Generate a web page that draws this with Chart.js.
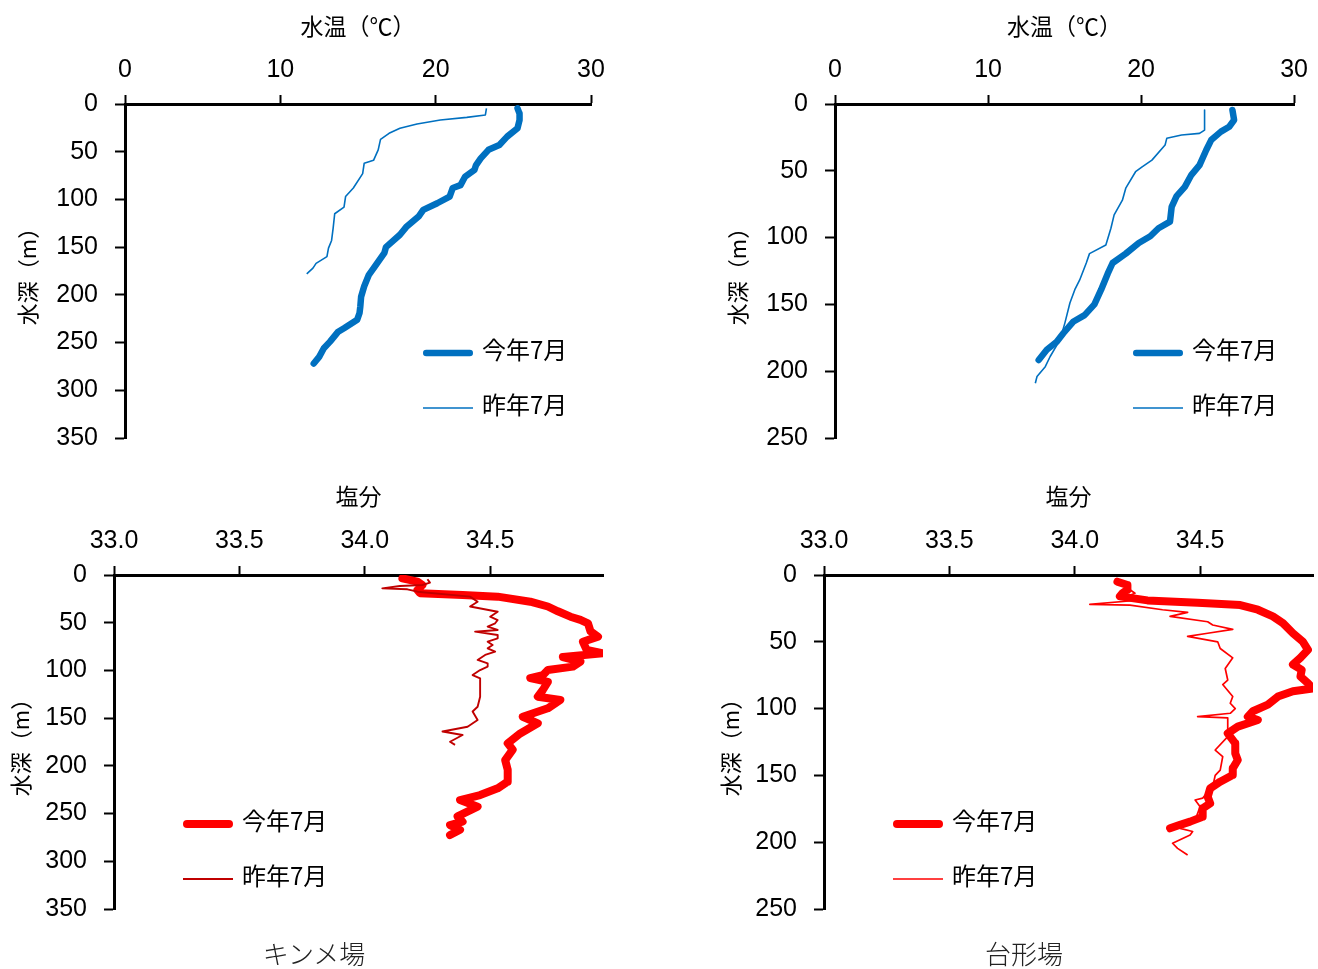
<!DOCTYPE html>
<html><head><meta charset="utf-8">
<script src="https://cdn.jsdelivr.net/npm/chart.js@4.4.1/dist/chart.umd.min.js"></script>
<style>
html,body{margin:0;padding:0;background:#fff;}
body{width:1318px;height:969px;position:relative;overflow:hidden;}
canvas{position:absolute;}
.cap{position:absolute;font-family:'Noto Sans CJK JP',sans-serif;font-size:26px;line-height:30px;color:#222;transform:translateX(-50%);white-space:nowrap;font-weight:300;}
</style></head><body>
<canvas id="c1" style="left:0;top:0;width:660px;height:470px"></canvas>
<canvas id="c2" style="left:660px;top:0;width:658px;height:470px"></canvas>
<canvas id="c3" style="left:0;top:470px;width:660px;height:499px"></canvas>
<canvas id="c4" style="left:660px;top:470px;width:658px;height:499px"></canvas>
<div class="cap" style="left:314px;top:938px">キンメ場</div>
<div class="cap" style="left:1024px;top:938px">台形場</div>
<script>
// ---- data ----
const seriesLabels = ['今年7月', '昨年7月'];
const stationNames = ['キンメ場', '台形場'];
const tempTicks = [0, 10, 20, 30];
const salTicks = [33.0, 33.5, 34.0, 34.5];

// キンメ場 水温
const kinmeTempNowDepth = [4.5,10,16.8,25.5,34.2,43,48,57,64,69,76,85,88,97,104,111,118,129,137,150,156,170,179,191,202,212,219,226,235,239,249,256,265,272];
const kinmeTempNow = [25.27,25.4,25.4,25.27,24.6,24.1,23.4,22.9,22.6,22.5,21.9,21.6,21.1,20.9,20.1,19.2,18.9,18.1,17.7,16.8,16.7,16.1,15.7,15.4,15.2,15.15,15.1,14.95,14.1,13.7,13.2,12.8,12.5,12.15];
const kinmeTempPrevDepth = [4.5,11.5,14,16.8,21,25.5,30.7,37,48,59,62,73,88,97,108,115,130,143,151,160,167,172,178];
const kinmeTempPrev = [23.27,23.2,22.0,20.3,18.8,17.7,17.0,16.45,16.3,16.0,15.4,15.3,14.7,14.2,14.1,13.5,13.4,13.3,13.1,13.0,12.3,12.1,11.7];

// 台形場 水温
const daiTempNowDepth = [4.5,12,17,20.7,27,34.4,45.7,53,62,69,77,88,93,99,104,112,119,127,139,150,158,163,171.6,178,184,191.6];
const daiTempNow = [25.97,26.08,25.76,25.22,24.58,24.26,23.82,23.29,22.86,22.32,22.0,21.89,21.14,20.6,19.85,19.0,18.14,17.82,17.39,16.95,16.31,15.56,14.92,14.49,13.84,13.31];
const daiTempPrevDepth = [4.5,19.5,22,23.2,25.7,30.7,42,47,50.7,63,72,83,93,105.5,112,119,131.7,139,149,164,176.6,189,196.6,204,209];
const daiTempPrev = [24.15,24.15,23.82,22.65,21.68,21.57,20.71,20.07,19.64,19.0,18.78,18.24,18.03,17.7,16.63,16.42,15.99,15.67,15.35,15.02,14.7,14.06,13.74,13.2,13.09];

// キンメ場 塩分
const kinmeSalNowDepth = [3.5,7,10.5,15.7,19,21,22.7,28,33,38,43.7,47,50.6,59,64.6,70,78.6,82,86,90.8,96,99.6,105,108,112,120.5,127.5,131,139.7,148.5,155.4,166,176.4,183,194,204,216.6,223.5,230.6,235.8,242.8,253,258.5,262,267,272.5];
const kinmeSalNow = [34.15,34.21,34.23,34.21,34.22,34.39,34.53,34.66,34.73,34.77,34.82,34.86,34.89,34.90,34.93,34.87,34.885,34.95,34.79,34.86,34.83,34.73,34.71,34.66,34.73,34.71,34.69,34.78,34.73,34.63,34.69,34.62,34.57,34.59,34.56,34.57,34.57,34.53,34.46,34.38,34.45,34.37,34.39,34.34,34.38,34.34];
const kinmeSalPrevDepth = [4.5,8,10.5,11.5,14,15,17.5,22.7,28,33,38.5,43.7,47.2,50.6,54.1,57.6,59.4,62.9,66.4,69.9,73.4,76.8,80.3,83.8,89,92.6,96,99.6,104.8,108.3,113.5,127.5,138,143,152,159,164,167.7,174.7,178];
const kinmeSalPrev = [34.25,34.26,34.23,34.14,34.07,34.17,34.21,34.42,34.45,34.42,34.53,34.50,34.53,34.52,34.49,34.53,34.44,34.53,34.53,34.49,34.51,34.49,34.52,34.48,34.45,34.49,34.49,34.46,34.43,34.46,34.46,34.46,34.45,34.43,34.45,34.41,34.31,34.39,34.34,34.36];

// 台形場 塩分
const daiSalNowDepth = [5,7.5,11,13.7,16,19,20.7,22.5,26,31,36,43.6,50,56,62,67,71,76,81,85,87,91,97,102,106,108.5,113.5,118.5,126,133.5,138.5,144.7,149.7,154.7,159.7,166,171,174.6,181,184.6,187,189.6];
const daiSalNow = [34.17,34.21,34.21,34.19,34.18,34.29,34.49,34.66,34.73,34.79,34.83,34.87,34.91,34.93,34.90,34.87,34.905,34.90,34.93,34.95,34.87,34.81,34.77,34.71,34.69,34.73,34.65,34.61,34.64,34.64,34.65,34.63,34.63,34.58,34.54,34.53,34.54,34.51,34.51,34.46,34.42,34.38];
const daiSalPrevDepth = [6,11,13.7,16,18.7,22,22.5,26,28,31,35,37.4,40.7,43.6,46,50,55,62,70,78.6,82,91,96,100,103.5,106,107,112,121,131,136,146,150,158.5,167,168.4,173.4,183.4,189.6,192,194.6,200.8,204.6,209.6];
const daiSalPrev = [34.21,34.22,34.24,34.21,34.26,34.06,34.22,34.35,34.45,34.38,34.53,34.55,34.63,34.53,34.45,34.57,34.58,34.63,34.60,34.61,34.59,34.63,34.62,34.64,34.62,34.49,34.61,34.61,34.61,34.56,34.59,34.58,34.56,34.55,34.51,34.48,34.50,34.48,34.42,34.47,34.46,34.39,34.41,34.45];

// ---- helpers ----
const NUM_FONT = "'Liberation Sans', Arial, sans-serif";
const JP_FONT = "'Noto Sans CJK JP', sans-serif";
function pts(depths, vals) { return depths.map((d, i) => ({ x: vals[i], y: d })); }

const profileLegend = {
  id: 'profileLegend',
  afterDatasetsDraw(chart, args, opts) {
    const { ctx, chartArea } = chart;
    const x0 = chartArea.left + opts.x;
    const y0 = chartArea.top + opts.y;
    ctx.save();
    chart.data.datasets.forEach((ds, i) => {
      const y = y0 + i * opts.gap;
      ctx.beginPath();
      ctx.strokeStyle = ds.borderColor;
      ctx.lineWidth = ds.borderWidth;
      ctx.lineCap = ds.borderWidth > 3 ? 'round' : 'butt';
      const inset = ds.borderWidth > 3 ? ds.borderWidth / 2 : 0;
      ctx.moveTo(x0 + inset, y);
      ctx.lineTo(x0 + 50 - inset, y);
      ctx.stroke();
      ctx.fillStyle = '#000';
      ctx.font = '24px ' + JP_FONT;
      ctx.textBaseline = 'middle';
      ctx.textAlign = 'left';
      ctx.fillText(ds.label, x0 + 59, y - 3);
    });
    ctx.restore();
  }
};

function build(id, o) {
  const cv = document.getElementById(id);
  cv.width = o.w; cv.height = o.h;
  return new Chart(cv, {
    type: 'scatter',
    data: {
      datasets: [
        { label: seriesLabels[0], data: o.now, borderColor: o.nowColor, borderWidth: o.thick, showLine: true,
          pointRadius: 0, tension: 0, borderJoinStyle: 'round', borderCapStyle: 'round', order: 2 },
        { label: seriesLabels[1], data: o.prev, borderColor: o.prevColor, borderWidth: o.thin, showLine: true,
          pointRadius: 0, tension: 0, borderJoinStyle: 'round', order: 1 }
      ]
    },
    options: {
      responsive: false, animation: false, devicePixelRatio: 1,
      layout: { padding: { left: 0, top: 0, right: o.padR, bottom: o.padB } },
      plugins: { legend: { display: false }, tooltip: { enabled: false },
        profileLegend: { x: o.legX, y: 249, gap: 55 } },
      scales: {
        x: {
          type: 'linear', position: 'top', min: o.xmin, max: o.xmax,
          afterBuildTicks: s => { s.ticks = o.xticks.map(v => ({ value: v })); },
          afterFit: s => { s.height = o.xh; },
          ticks: { font: { family: NUM_FONT, size: 25 }, color: '#000', padding: 10,
            callback: v => o.xfmt(v), maxRotation: 0 },
          grid: { drawOnChartArea: false, drawTicks: true, tickLength: 9, tickWidth: 2, tickColor: '#000' },
          border: { display: true, color: '#000', width: 3 },
          title: { display: true, text: o.xtitle, color: '#000', font: { family: JP_FONT, size: 23 },
            padding: { top: 12, bottom: 0 } }
        },
        y: {
          type: 'linear', position: 'left', reverse: true, min: 0, max: o.ymax,
          ticks: { stepSize: 50, font: { family: NUM_FONT, size: 25 }, color: '#000', padding: 17 },
          afterFit: s => { s.width = o.yw; },
          grid: { drawOnChartArea: false, drawTicks: true, tickLength: 10, tickWidth: 2, tickColor: '#000' },
          border: { display: true, color: '#000', width: 3 },
          title: { display: true, text: '水深（m）', color: '#000', font: { family: JP_FONT, size: 22 },
            padding: { top: o.ytp, bottom: 0 } }
        }
      }
    },
    plugins: [profileLegend]
  });
}

const BLUE = '#0070C0';
build('c1', { w: 660, h: 470, yw: 125, xh: 104, padR: 69, padB: 32, ytp: 14,
  xmin: 0, xmax: 30, xticks: tempTicks, xfmt: v => String(v), ymax: 350, xtitle: '水温（℃）',
  now: pts(kinmeTempNowDepth, kinmeTempNow), prev: pts(kinmeTempPrevDepth, kinmeTempPrev),
  nowColor: BLUE, prevColor: BLUE, thick: 6.5, thin: 1.6, legX: 298 });
build('c2', { w: 658, h: 470, yw: 175, xh: 104, padR: 17, padB: 32, ytp: 64,
  xmin: 0, xmax: 30, xticks: tempTicks, xfmt: v => String(v), ymax: 250, xtitle: '水温（℃）',
  now: pts(daiTempNowDepth, daiTempNow), prev: pts(daiTempPrevDepth, daiTempPrev),
  nowColor: BLUE, prevColor: BLUE, thick: 6.5, thin: 1.6, legX: 298 });
build('c3', { w: 660, h: 499, yw: 114, xh: 105, padR: 57, padB: 60, ytp: 7,
  xmin: 33, xmax: 34.95, xticks: salTicks, xfmt: v => v.toFixed(1), ymax: 350, xtitle: '塩分',
  now: pts(kinmeSalNowDepth, kinmeSalNow), prev: pts(kinmeSalPrevDepth, kinmeSalPrev),
  nowColor: '#FF0000', prevColor: '#C00000', thick: 8, thin: 1.9, legX: 69 });
build('c4', { w: 658, h: 499, yw: 164, xh: 105, padR: 5, padB: 60, ytp: 57,
  xmin: 33, xmax: 34.95, xticks: salTicks, xfmt: v => v.toFixed(1), ymax: 250, xtitle: '塩分',
  now: pts(daiSalNowDepth, daiSalNow), prev: pts(daiSalPrevDepth, daiSalPrev),
  nowColor: '#FF0000', prevColor: '#FF0000', thick: 8, thin: 1.7, legX: 69 });
</script>
</body></html>
